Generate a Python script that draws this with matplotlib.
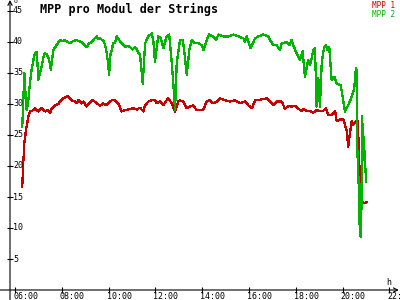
import matplotlib
matplotlib.use("Agg")
import matplotlib.pyplot as plt

# MPP 1 (red) - time in hours, voltage per module
mpp1_t = [6.31, 6.36, 6.40, 6.47, 6.57, 6.64, 6.78, 6.85, 6.93, 7.00, 7.07, 7.14, 7.21, 7.28,
          7.42, 7.50, 7.57, 7.71, 7.85, 7.92, 8.07, 8.24, 8.35, 8.42, 8.56, 8.64, 8.71, 8.85,
          8.92, 9.06, 9.20, 9.31, 9.45, 9.63, 9.77, 9.85, 9.92, 10.13, 10.27, 10.41, 10.56,
          10.70, 10.91, 11.06, 11.20, 11.34, 11.48, 11.56, 11.70, 11.84, 11.98, 12.05, 12.20,
          12.34, 12.44, 12.55, 12.70, 12.84, 12.98, 13.05, 13.19, 13.34, 13.48, 13.62, 13.76,
          13.91, 14.05, 14.19, 14.33, 14.47, 14.62, 14.76, 14.97, 15.19, 15.40, 15.62, 15.83,
          15.97, 16.12, 16.26, 16.47, 16.61, 16.75, 16.90, 17.04, 17.18, 17.40, 17.54, 17.68,
          17.82, 17.97, 18.11, 18.26, 18.33, 18.47, 18.61, 18.75, 18.89, 19.03, 19.17, 19.29,
          19.39, 19.53, 19.68, 19.75, 19.89, 20.03, 20.17, 20.24, 20.31, 20.39, 20.45, 20.57,
          20.64, 20.71, 20.75, 20.79, 20.85, 20.96, 21.01]
mpp1_v = [16.7, 21.0, 23.7, 25.8, 28.0, 28.8, 29.0, 29.3, 29.0, 28.8, 29.2, 29.3, 29.0, 28.8,
          29.0, 28.6, 29.3, 29.8, 30.0, 30.4, 30.9, 31.3, 30.9, 30.6, 30.4, 30.1, 30.6, 30.1,
          30.4, 29.6, 30.2, 30.6, 30.3, 29.7, 30.1, 29.9, 29.9, 30.6, 30.6, 30.1, 28.8,
          29.0, 29.2, 29.3, 29.1, 29.4, 28.8, 29.8, 30.4, 30.6, 30.6, 30.1, 30.4,
          29.8, 30.4, 30.9, 30.1, 28.8, 30.4, 30.6, 30.4, 29.3, 29.6, 29.8, 29.0,
          29.0, 29.1, 30.4, 30.6, 30.1, 30.4, 30.9, 30.6, 30.4, 30.6, 30.1, 30.4,
          29.8, 29.3, 30.6, 30.7, 30.8, 30.9, 30.4, 29.8, 30.4, 30.4, 29.2, 29.7,
          29.6, 29.7, 29.2, 28.9, 29.2, 28.9, 28.9, 28.6, 29.0, 28.9, 28.9, 29.3,
          28.2, 28.2, 28.8, 27.2, 27.5, 27.5, 25.8, 23.1, 25.2, 27.2, 26.6, 27.2,
          27.2, 22.0, 11.0, 16.4, 14.0, 14.0, 14.2]

# MPP 2 (green)
mpp2_t = [6.31, 6.40, 6.45, 6.50, 6.57, 6.64, 6.71, 6.78, 6.85, 6.93, 7.00, 7.07, 7.14, 7.21,
          7.28, 7.35, 7.42, 7.49, 7.53, 7.60, 7.64, 7.78, 7.92, 8.03, 8.14, 8.24, 8.35, 8.50,
          8.64, 8.75, 8.85, 8.95, 9.06, 9.17, 9.28, 9.38, 9.49, 9.56, 9.63, 9.70, 9.77, 9.85,
          9.92, 9.98, 10.02, 10.08, 10.13, 10.20, 10.27, 10.35, 10.45, 10.56, 10.63, 10.70,
          10.80, 10.91, 11.02, 11.13, 11.20, 11.27, 11.34, 11.46, 11.56, 11.70, 11.84, 11.91,
          11.98, 12.12, 12.23, 12.34, 12.48, 12.59, 12.70, 12.77, 12.84, 12.91, 13.05, 13.17,
          13.26, 13.34, 13.45, 13.55, 13.69, 13.83, 13.98, 14.05, 14.19, 14.29, 14.47, 14.59,
          14.69, 14.90, 15.12, 15.33, 15.54, 15.76, 15.83, 15.90, 16.07, 16.26, 16.40, 16.61,
          16.83, 16.90, 17.04, 17.18, 17.32, 17.40, 17.61, 17.75, 17.82, 17.97, 18.04, 18.18,
          18.29, 18.39, 18.53, 18.61, 18.68, 18.75, 18.82, 18.89, 18.96, 19.03, 19.11, 19.21,
          19.29, 19.36, 19.43, 19.53, 19.65, 19.75, 19.92, 20.00, 20.10, 20.24, 20.39, 20.49,
          20.57, 20.60, 20.63, 20.69, 20.71, 20.77, 20.80, 20.84, 20.87, 20.90, 20.96, 21.01]
mpp2_v = [26.3, 35.0, 31.5, 29.0, 30.6, 33.5, 35.5, 37.0, 38.2, 38.4, 33.9, 35.0, 36.0, 37.5,
          38.2, 38.0, 37.6, 36.5, 35.5, 37.5, 38.7, 39.5, 40.3, 40.1, 40.3, 40.0, 39.8, 40.2,
          40.3, 40.1, 40.0, 39.6, 39.2, 39.8, 40.0, 40.5, 40.9, 40.5, 40.6, 40.4, 40.3, 39.5,
          38.2, 36.5, 34.7, 38.0, 38.7, 39.8, 39.8, 40.9, 40.3, 39.8, 39.5, 39.2,
          39.4, 39.2, 38.8, 39.2, 38.8, 38.2, 38.0, 33.3, 39.8, 40.9, 41.4, 40.3,
          36.8, 40.9, 40.6, 39.0, 40.9, 41.2, 36.6, 33.0, 29.0, 36.6, 40.3, 40.3,
          37.6, 34.7, 38.7, 40.3, 39.8, 39.8, 39.5, 38.7, 40.3, 41.2, 40.9, 40.3,
          41.2, 40.9, 40.9, 41.2, 40.9, 40.6, 40.0, 40.9, 39.0, 40.6, 40.9, 41.2,
          40.9, 40.3, 39.5, 39.5, 38.7, 39.8, 40.0, 39.5, 40.3, 38.7, 38.2, 37.1,
          38.5, 34.4, 37.1, 36.3, 37.4, 38.7, 39.0, 29.6, 34.2, 29.6, 36.8, 39.2,
          39.5, 38.7, 39.2, 33.9, 34.4, 33.3, 33.0, 31.2, 28.8, 29.8, 31.2, 32.3,
          35.8, 35.5, 22.6, 16.7, 11.3, 8.6, 12.0, 28.0, 21.0, 24.7, 20.4, 17.5]

y_ticks = [5, 10, 15, 20, 25, 30, 35, 40, 45]
x_ticks = [6, 8, 10, 12, 14, 16, 18, 20, 22]
x_labels = ["06:00", "08:00", "10:00", "12:00", "14:00", "16:00", "18:00", "20:00", "22:00"]

RED = "#c80000"
GREEN = "#00b400"
MONO = "DejaVu Sans Mono"

fig = plt.figure(figsize=(4, 3), dpi=100)
fig.patch.set_facecolor("white")
ax = fig.add_axes([0, 0, 1, 1])
ax.set_axis_off()

# pixel mapping: 06:00 at x=15, 23.4 px per hour; 0 V at y=290, 6.2 px per volt
x0 = 6 - 15 / 23.4
x1 = 6 + 385 / 23.4
y1 = 290 / 6.2
y0 = -10 / 6.2
ax.set_xlim(x0, x1)
ax.set_ylim(y0, y1)
yaxis_x = 6 - 5 / 23.4

# axes with arrows
arrow = dict(arrowstyle="->,head_length=0.3,head_width=0.15", color="black", lw=0.8,
             shrinkA=0, shrinkB=0)
ax.annotate("", xy=(yaxis_x, y1), xytext=(yaxis_x, y0), arrowprops=arrow)
ax.annotate("", xy=(x1 - 0.05, 0), xytext=(x0, 0), arrowprops=arrow)

# ticks
ax.plot([yaxis_x] * len(y_ticks), y_ticks, ls="none", marker="_", ms=4.5, mew=0.8, color="black")
ax.plot(x_ticks, [0] * len(x_ticks), ls="none", marker="|", ms=4.5, mew=0.8, color="black")

for v in y_ticks:
    ax.annotate(str(v), (yaxis_x, v), xytext=(3, 0), textcoords="offset pixels",
                ha="left", va="center", fontsize=6, family=MONO)
for t, lab in zip(x_ticks, x_labels):
    ax.annotate(lab, (t, 0), xytext=(-2, -2), textcoords="offset pixels",
                ha="left", va="top", fontsize=6, family=MONO)

ax.annotate("U", (yaxis_x, y1), xytext=(3, 1), textcoords="offset pixels",
            ha="left", va="top", fontsize=4.5, family=MONO)
ax.annotate("h", (x1, 0), xytext=(-14, 3), textcoords="offset pixels",
            ha="left", va="bottom", fontsize=6, family=MONO)

# data lines
ax.plot(mpp1_t, mpp1_v, color=RED, lw=0.9, antialiased=False)
ax.plot(mpp2_t, mpp2_v, color=GREEN, lw=0.9, antialiased=False)

fig.text(40 / 400, 1 - 3 / 300, "MPP pro Modul der Strings", ha="left", va="top",
         fontsize=8.5, fontweight="bold", family=MONO)
fig.text(395 / 400, 1 - 8 / 300, "MPP 1", ha="right", va="baseline", fontsize=5.5, family=MONO, color=RED)
fig.text(395 / 400, 1 - 17 / 300, "MPP 2", ha="right", va="baseline", fontsize=5.5, family=MONO, color=GREEN)

fig.savefig("out.png", dpi=100)
